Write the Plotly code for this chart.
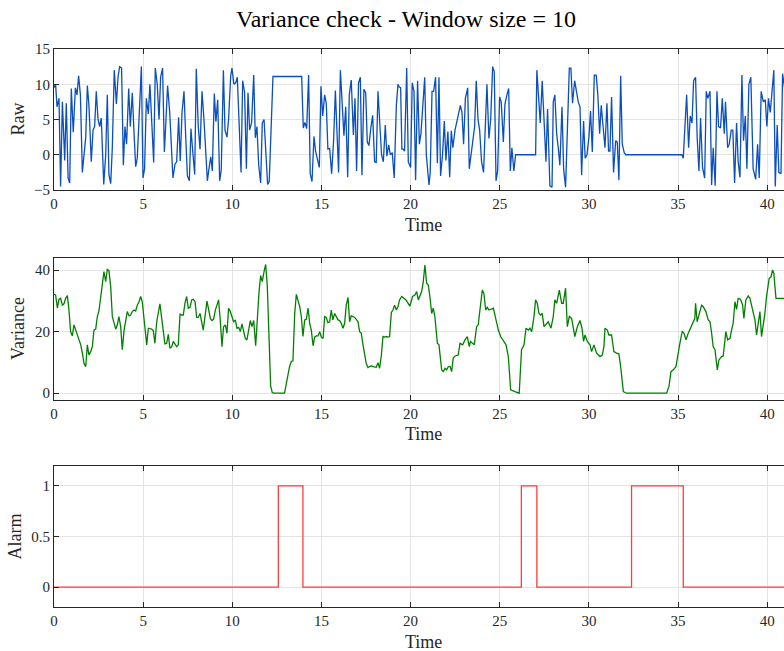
import plotly.graph_objects as go

# ---------------- data ----------------
raw_t = [0.00,0.09,0.17,0.28,0.37,0.47,0.60,0.69,0.79,0.88,0.97,1.08,1.20,1.29,1.38,1.48,1.59,1.68,1.78,1.87,
         1.96,2.09,2.19,2.28,2.37,2.47,2.56,2.65,2.79,2.90,2.99,3.08,3.18,3.27,3.38,3.50,3.59,3.68,3.79,3.89,
         3.98,4.07,4.19,4.28,4.39,4.49,4.58,4.67,4.77,4.90,4.99,5.08,5.18,5.29,5.38,5.48,5.59,5.68,5.79,5.89,
         5.98,6.09,6.19,6.28,6.37,6.49,6.58,6.67,6.79,6.88,6.99,7.08,7.18,7.29,7.38,7.48,7.59,7.68,7.78,7.89,
         7.98,8.09,8.19,8.30,8.41,8.50,8.60,8.69,8.79,8.88,8.99,9.08,9.18,9.29,9.38,9.50,9.59,9.70,9.79,9.91,
         9.98,10.09,10.19,10.28,10.37,10.49,10.58,10.69,10.79,10.88,10.97,11.08,11.20,11.29,11.38,11.48,11.59,11.68,11.78,11.89,
         11.98,12.07,12.19,12.28,13.89,13.98,14.07,14.17,14.28,14.37,14.47,14.58,14.67,14.77,14.88,14.97,15.07,15.18,15.27,15.36,
         15.46,15.57,15.68,15.78,15.87,15.96,16.06,16.15,16.26,16.36,16.47,16.56,16.67,16.79,16.88,16.97,17.08,17.18,17.27,17.38,
         17.48,17.57,17.66,17.78,17.87,17.98,18.07,18.17,18.28,18.37,18.47,18.58,18.67,18.77,18.86,18.97,19.08,19.20,19.29,19.36,
         19.44,19.51,19.59,19.66,19.78,19.87,20.00,20.09,20.19,20.28,20.39,20.49,20.58,20.67,20.79,20.88,20.97,21.03,21.10,21.20,
         21.29,21.40,21.50,21.59,21.68,21.79,21.89,21.98,22.09,22.19,22.28,22.37,22.49,22.58,22.67,22.79,22.88,22.97,23.07,23.20,
         23.29,23.38,23.48,23.59,23.68,23.78,23.87,23.98,24.09,24.19,24.28,24.39,24.49,24.60,24.69,24.79,24.88,24.99,25.08,25.20,
         25.29,25.40,25.50,25.59,25.68,25.79,25.89,27.01,27.08,27.18,27.27,27.38,27.48,27.59,27.68,27.81,27.93,28.00,28.09,28.19,
         28.28,28.37,28.49,28.58,28.69,28.79,28.90,28.99,29.08,29.20,29.31,29.40,29.50,29.59,29.70,29.79,29.89,30.00,30.09,30.19,
         30.30,30.41,30.50,30.60,30.69,30.80,30.90,31.01,31.10,31.18,31.27,31.38,31.50,31.59,31.68,31.78,31.87,31.98,32.07,35.21,
         35.29,35.48,35.59,35.68,35.78,35.87,35.98,36.07,36.17,36.26,36.37,36.49,36.58,36.67,36.79,36.88,36.97,37.08,37.18,37.27,
         37.38,37.48,37.59,37.66,37.78,37.87,37.98,38.07,38.17,38.28,38.37,38.47,38.58,38.67,38.77,38.86,38.97,39.08,39.21,39.35,
         39.46,39.55,39.66,39.78,39.89,39.98,40.07,40.17,40.28,40.37,40.45,40.56,40.65,40.77,40.86,40.94,41.00]
raw = [9.5,10,6.8,8,-4.5,7.5,-0.8,7.3,-3.3,-4,9.4,3.2,9.5,8.5,11.2,8.5,-2.5,0.5,2.5,9.8,
       7,-1,3.5,4,9,5,4,5.2,-4.2,0,8.5,-2.8,-4.1,1,12,7.2,11,12.5,12.3,-1.5,
       4,1.5,9.4,4,8.8,3,-1.7,-0.5,5,12.5,-3.3,-2,8,5.8,10,5,-1.1,12.3,10,5,
       11,12.3,0.4,5,9.8,6,1.5,-3.3,-1.3,-1,5.3,-0.9,6,9,3,-3,-3.7,3.7,0.5,-2.8,
       12.2,4,0.8,9,5,1,-3.7,-2,-0.3,-2.3,8.7,4.7,7.8,-3.7,-2.2,12,3.5,2.5,5,11.2,
       12.3,10,10.2,11,5,-2.5,10.5,8.8,-2,8.8,3.5,4.5,11.3,2.4,4,-1.5,-4,4.5,5,0,
       -4.2,-3.8,5,11.1,11.1,3.8,4.6,3.7,11.3,-2.7,-3.8,2.6,0.5,-0.6,-1.8,9.7,5.5,8.5,7.3,0.8,
       0.9,-2.7,2,9.1,3,-2.5,12,8,2.7,6.8,-3.2,8.5,10.6,2.8,8,-2.3,10.2,11,-2.9,9.3,
       8.8,1.8,1.3,4,5.6,-1,-1.1,9,4,0,-1,4.2,-0.2,1.4,0,0.3,-3.3,7,10,9.6,
       9.5,0.8,0.8,0.5,12.3,-1,-1.8,10.2,9,-3.6,10.5,1.5,3,6,11,0,-3,-4.3,-2.5,9,
       9,11,-1.2,11,-3,0,4.8,-0.8,3.3,-3.2,3.4,1,3.5,4.5,5.5,7,6,1.5,8,9.5,
       -2,0,2.5,4,10.5,5,3.5,-1,-2.5,4,10,2.3,5,12.5,11.8,-3.7,-2.3,8.2,7.5,1.8,
       7.2,8.5,9.4,-2.3,1,-2.3,0,0,12,8,4.5,10.5,5.5,-1,6.5,-4.4,-4.6,7.5,8.5,3,
       1,-1.5,6.8,-2,-4.6,3,12.3,12.3,7.3,10.5,9,7.5,6.8,-2.9,4.8,-0.5,0,2.5,6.2,0.4,
       11.3,11.3,8.5,3,7,3.5,1,7.3,0.5,0.5,8.2,-2.5,2,1.8,-3.6,11.2,1.5,0.3,0,0,
       -0.5,8.5,1,5.5,4.5,10.5,11,2.5,-2.3,5.2,-1.8,-3.3,9,8,9,-4.3,1,-4.4,9,4,
       3.8,8,3,7.5,1,1.5,3.5,3.5,-4,4.5,-1,-3.2,11.3,2,5.5,-2,10,11,-2,-3.5,
       1.5,-3.3,9,7.5,7.8,4,8,6,10,12,-4.5,4.2,-2.5,-2.7,11.5,10,9]

var_t = [0.00,0.09,0.19,0.28,0.37,0.47,0.56,0.65,0.75,0.84,0.93,1.03,1.12,1.21,1.31,1.40,1.50,1.59,1.68,1.78,
         1.87,1.96,2.06,2.15,2.24,2.34,2.43,2.52,2.62,2.71,2.80,2.90,2.99,3.08,3.18,3.27,3.36,3.46,3.55,3.64,
         3.74,3.83,3.93,4.02,4.11,4.21,4.30,4.39,4.49,4.58,4.67,4.77,4.86,4.95,5.05,5.14,5.20,5.29,5.38,5.48,
         5.57,5.66,5.76,5.85,5.94,6.04,6.13,6.22,6.32,6.41,6.50,6.60,6.69,6.79,6.88,6.97,7.07,7.16,7.25,7.35,
         7.44,7.53,7.63,7.72,7.81,7.91,8.00,8.09,8.19,8.28,8.37,8.58,8.67,8.77,8.86,8.95,9.05,9.14,9.23,9.33,
         9.42,9.51,9.61,9.70,9.79,9.89,9.98,10.07,10.17,10.26,10.36,10.45,10.54,10.64,10.73,10.82,10.92,11.01,11.10,11.20,
         11.31,11.40,11.50,11.59,11.68,11.78,11.87,11.96,12.06,12.15,12.24,12.34,12.93,13.03,13.12,13.21,13.31,13.40,13.50,13.59,
         13.68,13.78,13.87,13.96,14.06,14.15,14.25,14.34,14.43,14.53,14.62,14.71,14.81,14.90,14.99,15.09,15.18,15.27,15.36,15.46,
         15.55,15.64,15.74,15.83,15.93,16.02,16.11,16.21,16.30,16.39,16.49,16.58,16.67,16.77,16.86,16.95,17.05,17.14,17.23,17.33,
         17.42,17.51,17.61,17.70,17.79,17.89,17.98,18.07,18.17,18.26,18.36,18.45,18.54,18.64,18.73,18.82,18.92,19.01,19.10,19.20,
         19.29,19.38,19.50,19.74,19.96,20.11,20.24,20.34,20.43,20.52,20.62,20.71,20.80,20.90,20.99,21.08,21.18,21.27,21.36,21.50,
         21.59,21.74,21.83,21.93,22.02,22.11,22.21,22.30,22.39,22.49,22.67,22.77,22.92,23.05,23.18,23.29,23.36,23.57,23.70,23.79,
         23.93,24.02,24.11,24.21,24.30,24.39,24.64,24.82,24.92,25.05,25.23,25.35,25.48,25.61,25.85,26.09,26.22,26.36,26.47,26.60,
         26.69,26.79,26.92,27.01,27.10,27.20,27.29,27.38,27.48,27.59,27.72,27.87,28.00,28.09,28.19,28.34,28.47,28.56,28.69,28.79,
         28.90,29.03,29.12,29.21,29.35,29.50,29.61,29.70,29.78,29.91,30.06,30.15,30.28,30.43,30.62,30.75,30.84,30.90,31.03,31.12,
         31.27,31.40,31.55,31.68,31.78,31.93,32.11,34.36,34.49,34.60,34.73,34.88,35.10,35.23,35.33,35.44,35.57,35.70,35.81,35.94,
         35.98,36.07,36.22,36.32,36.41,36.56,36.69,36.79,36.88,36.97,37.07,37.20,37.29,37.44,37.53,37.68,37.78,37.91,38.00,38.09,
         38.19,38.28,38.37,38.50,38.62,38.69,38.80,38.93,39.03,39.18,39.31,39.40,39.53,39.59,39.68,39.87,39.96,40.11,40.21,40.30,
         40.37,40.49,41.00]
variance = [32.1,31.9,27.6,30.5,30.8,28.6,29,30.8,31.7,27,20,18.6,22.2,20.5,19.2,17.3,15.7,13,9.7,8.6,
            15.7,12.4,13.5,15.1,20.5,20.8,24.9,26.7,31.4,36.2,39.5,36.2,40.2,39.8,34.6,24.9,22.9,20.8,22.2,24.9,
            21.6,14.1,20.5,24.3,26.5,25.1,25.4,26.5,27,26.7,28.6,29.7,31.4,29.7,24.3,20.5,15.7,21.1,20.9,20.8,
            20.3,16.2,23.2,25.9,29,24.3,20.5,16,16.2,19.1,14.6,15.1,16.8,15.7,15.1,15.7,25.7,25.4,25.4,29.4,
            31.4,27.6,27.9,30.3,30.5,29.7,24.6,24.6,25.9,23.2,20.5,29.9,26.5,24.3,23.6,24,27,29,30.3,23.2,
            15.1,21.6,22.2,19.5,27.6,26.5,24.6,23.2,23.8,21.1,21.4,20,22.5,20.3,17.8,17.3,20.5,23.6,21.6,23.6,
            15.4,24.9,33,38.2,36.2,39.5,41.8,35.1,19.5,2.4,0.2,0,0,3.8,5.9,8.6,10.3,10.5,25.9,32.1,
            30.3,28.1,24.9,18.4,23.8,24,27.6,22.7,20.5,15.4,18.2,18.6,18.6,20,18.2,17.8,24.9,24.6,22.9,23.2,
            27,23.8,25.9,25.1,23.8,23.6,22.7,21.1,22.7,28.6,31.1,23.2,25.1,24.9,24.6,24,23.2,20,19.5,15.7,
            11.9,9.7,8.3,8.6,8.9,8.6,8.4,8.4,9.9,8.1,12.4,18.4,18.2,18.4,18.2,18.4,26.2,27,28.6,27,
            28.1,30.3,31.4,30.3,28.3,31.4,31.9,33,30.3,31.6,33,36.2,41.6,35.7,35.1,31.4,25.9,27.6,24.9,16.2,
            15.7,7.6,7,8.1,7.6,8.6,8.7,7,11.4,12.1,12.4,16.2,15.7,17.3,18.4,15.1,16.8,15.7,21.6,22.2,
            29.2,33.5,32.4,27,27.9,27,27.6,22.7,20.5,18.4,16.8,15.7,11.9,1.1,0.5,0,14.1,15.7,21.1,20.5,
            21.1,20,24.9,30.3,29.2,25.9,25.4,25.9,21.6,22.2,23.2,21.1,24.9,30.3,29.2,33.5,29.2,29.2,34.1,21.6,
            24.9,24.3,20.5,18.4,21.6,23.6,21.1,16.8,18.9,16.8,15.7,13.5,15.7,13,11.9,12.4,15.1,21.1,20.5,18.9,
            18.9,13.5,13,12.8,8.6,0.5,0,0,2.2,7,7.6,8.6,16.2,20,19.5,17.3,19.5,21.1,22.7,24.3,
            29.2,23.2,26.5,28.6,28.1,26.5,23.8,23.2,19.5,15.1,14.1,7.6,10.8,11.9,12.1,20,17.3,17.8,20.5,22.7,
            29.7,27.2,30.8,30.5,28.6,24.3,30.3,31.6,30.8,27,23.8,18.9,23.8,26.5,18.4,25.9,31.4,37.3,37.8,40,
            38.9,30.8,30.8]

alarm_t = [0, 12.58, 13.96, 26.21, 27.08, 32.39, 35.29, 41.0]
alarm = [0, 1, 0, 1, 0, 1, 0, 0]

title_text = "Variance check - Window size = 10"
x_ticks = [0, 5, 10, 15, 20, 25, 30, 35, 40]

# ---------------- figure ----------------
W, H = 784, 651
FONT = "Liberation Serif"
AX = "#262626"
GRID = "#e3e3e3"

def py(p):  # pixel (from top) -> paper y
    return 1 - p / H

def px(p):
    return p / W

fig = go.Figure()
fig.add_trace(go.Scatter(x=raw_t, y=raw, mode="lines", line=dict(color="#0a4fbd", width=1.3),
                         xaxis="x", yaxis="y", showlegend=False))
fig.add_trace(go.Scatter(x=var_t, y=variance, mode="lines", line=dict(color="#008000", width=1.3),
                         xaxis="x2", yaxis="y2", showlegend=False))
fig.add_trace(go.Scatter(x=alarm_t, y=alarm, mode="lines", line=dict(color="#ff3b3b", width=1.3, shape="hv"),
                         xaxis="x3", yaxis="y3", showlegend=False))

xcommon = dict(range=[0, 40.94], domain=[px(54), 1.0], tickvals=x_ticks, ticks="inside", ticklen=5,
               tickcolor=AX, showline=True, linecolor=AX, linewidth=1, mirror="ticks", showgrid=True,
               gridcolor=GRID, gridwidth=1, zeroline=False, automargin=False,
               tickfont=dict(family=FONT, size=15, color=AX))
ycommon = dict(ticks="inside", ticklen=5, tickcolor=AX, showline=True, linecolor=AX, linewidth=1,
               showgrid=True, gridcolor=GRID, gridwidth=1, zeroline=False, automargin=False,
               tickfont=dict(family=FONT, size=15, color=AX))

fig.update_layout(
    width=W, height=H, margin=dict(l=0, r=0, t=0, b=0, autoexpand=False),
    paper_bgcolor="white", plot_bgcolor="white",
    xaxis=dict(**xcommon, anchor="y"),
    yaxis=dict(**ycommon, anchor="x", domain=[py(190), py(49)], range=[-5, 15], tickvals=[-5, 0, 5, 10, 15]),
    xaxis2=dict(**xcommon, anchor="y2"),
    yaxis2=dict(**ycommon, anchor="x2", domain=[py(400), py(258.3)], range=[-2.2, 43.8], tickvals=[0, 20, 40]),
    xaxis3=dict(**xcommon, anchor="y3"),
    yaxis3=dict(**ycommon, anchor="x3", domain=[py(607.3), py(465.7)], range=[-0.2, 1.2],
                tickvals=[0, 0.5, 1], ticktext=["0", "0.5", "1"]),
)

ann = []
ann.append(dict(text=title_text, x=px(406), y=py(19), xref="paper", yref="paper", showarrow=False,
                font=dict(family=FONT, size=24, color="#000000"), xanchor="center", yanchor="middle"))
for yy in (225, 434, 642):
    ann.append(dict(text="Time", x=px(423), y=py(yy), xref="paper", yref="paper", showarrow=False,
                    font=dict(family=FONT, size=18, color=AX), xanchor="center", yanchor="middle"))
for lbl, xx, yy in (("Raw", 18, 119.5), ("Variance", 18, 329), ("Alarm", 14, 536.5)):
    ann.append(dict(text=lbl, x=px(xx), y=py(yy), xref="paper", yref="paper", showarrow=False, textangle=-90,
                    font=dict(family=FONT, size=18, color=AX), xanchor="center", yanchor="middle"))
fig.update_layout(annotations=ann)

fig.write_html("out.html")
